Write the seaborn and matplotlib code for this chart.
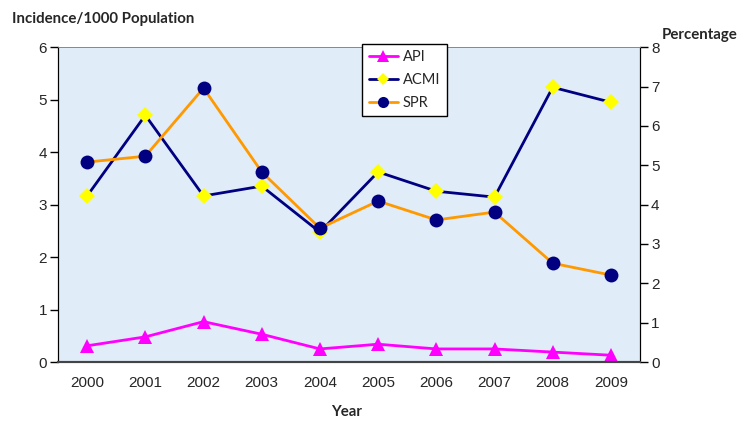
import matplotlib
matplotlib.use("Agg")
import matplotlib.pyplot as plt
import seaborn as sns
import pandas as pd
import numpy as np

years = [2000, 2001, 2002, 2003, 2004, 2005, 2006, 2007, 2008, 2009]
api = [0.31, 0.48, 0.77, 0.53, 0.25, 0.34, 0.25, 0.25, 0.19, 0.13]
acmi = [4.22, 6.27, 4.22, 4.47, 3.30, 4.83, 4.34, 4.19, 6.98, 6.60]
spr = [5.08, 5.23, 6.96, 4.83, 3.40, 4.09, 3.61, 3.81, 2.51, 2.21]

df = pd.DataFrame({'Year': years, 'API': api, 'ACMI': acmi, 'SPR': spr})

sns.set_style("white")
plt.rcParams['font.family'] = ['Liberation Sans', 'DejaVu Sans']

fig = plt.figure(figsize=(7.41, 4.21), dpi=100)
ax = fig.add_axes([0.0783, 0.140, 0.7854, 0.748])
ax.set_facecolor('#e0ecf8')
ax2 = ax.twinx()

sns.lineplot(data=df, x='Year', y='API', ax=ax, color='#ff00ff', lw=2,
             marker='^', markersize=10, markeredgewidth=0, label='API', legend=False)
sns.lineplot(data=df, x='Year', y='ACMI', ax=ax2, color='#000080', lw=2,
             marker='D', markersize=8, markerfacecolor='#ffff00',
             markeredgewidth=0, label='ACMI', legend=False)
sns.lineplot(data=df, x='Year', y='SPR', ax=ax2, color='#ff9900', lw=2,
             marker='o', markersize=10, markerfacecolor='#000080',
             markeredgewidth=0, label='SPR', legend=False)

ax.set_xlim(years[0] - 0.5, years[-1] + 0.5)
ax.set_ylim(0, 6)
ax2.set_ylim(0, 8)
ax.set_yticks(range(0, 7))
ax2.set_yticks(range(0, 9))

bounds = np.arange(years[0] - 0.5, years[-1] + 1, 1)
ax.set_xticks(bounds)
ax.set_xticklabels([])
ax.set_xticks(years, minor=True)
ax.set_xticklabels([str(y) for y in years], minor=True)
ax.tick_params(axis='x', which='major', direction='out', length=6, width=1, color='#333333')
ax.tick_params(axis='x', which='minor', length=0, pad=10, labelsize=11)
ax.tick_params(axis='y', direction='out', length=6, width=1, color='black', labelsize=11, pad=2)
ax2.tick_params(axis='y', direction='out', length=6, width=1, color='black', labelsize=11, pad=2)

ax.set_xlabel('')
ax.set_ylabel('')
ax2.set_ylabel('')

for a in (ax, ax2):
    a.spines['left'].set_color('black')
    a.spines['right'].set_color('black')
    a.spines['bottom'].set_color('#444444')
    a.spines['bottom'].set_linewidth(1.5)
    a.spines['top'].set_color('#888888')
    a.spines['top'].set_linewidth(0.6)

handles = ax.get_lines()[:1] + ax2.get_lines()[:2]
leg = ax2.legend(handles, ['API', 'ACMI', 'SPR'], loc='upper left',
                 bbox_to_anchor=(0.489, 0.896), bbox_transform=fig.transFigure,
                 borderaxespad=0, frameon=True, fancybox=False, edgecolor='black',
                 framealpha=1, prop={'family': 'Lato', 'size': 10.5},
                 handlelength=2.0, markerscale=0.8, borderpad=0.45,
                 labelspacing=0.6, handletextpad=0.3)
leg.get_frame().set_linewidth(1)

fig.text(0.016, 0.955, 'Incidence/1000 Population', fontsize=10.8, fontweight='bold',
         family='Lato', ha='left', va='center')
fig.text(0.893, 0.916, 'Percentage', fontsize=10.8, fontweight='bold',
         family='Lato', ha='left', va='center')
fig.text(0.468, 0.022, 'Year', fontsize=10.8, fontweight='bold',
         family='Lato', ha='center', va='center')

fig.savefig('out.png', dpi=100)
